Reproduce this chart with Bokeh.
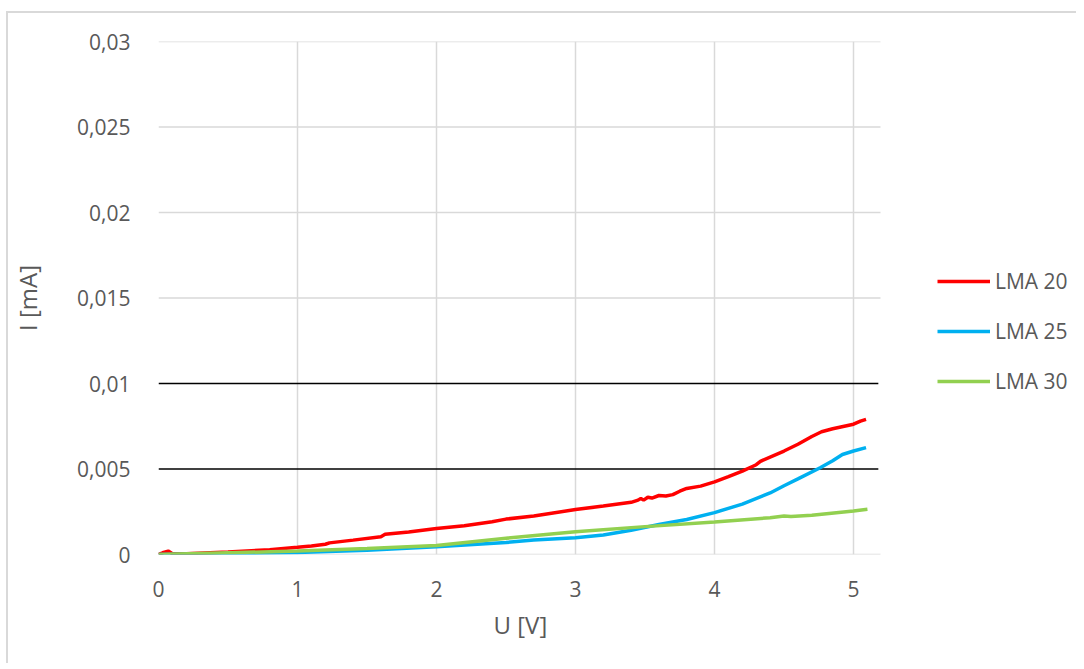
from bokeh.plotting import figure
from bokeh.models import Legend, LegendItem, CustomJSTickFormatter, Range1d, FixedTicker, Title
from bokeh.embed import file_html
from bokeh.resources import INLINE

# ---- data ----
u_lma20 = [0, 0.03, 0.07, 0.1, 0.2, 0.5, 0.8, 1.0, 1.1, 1.2, 1.23, 1.4, 1.6, 1.63, 1.8, 2.0, 2.2, 2.4, 2.5,
           2.7, 3.0, 3.2, 3.4, 3.45, 3.47, 3.49, 3.52, 3.55, 3.6, 3.65, 3.7, 3.75, 3.8, 3.9, 4.0, 4.1,
           4.2, 4.3, 4.33, 4.5, 4.6, 4.7, 4.77, 4.85, 5.0, 5.05, 5.09]
i_lma20 = [0, 0.0001, 0.0002, 0.00005, 0.00005, 0.00014, 0.00028, 0.00042, 0.0005, 0.0006, 0.00068,
           0.00084, 0.00104, 0.00118, 0.00132, 0.00152, 0.00168, 0.00192, 0.00207, 0.00225, 0.00263,
           0.00283, 0.00305, 0.00318, 0.00328, 0.00318, 0.00335, 0.0033, 0.00345, 0.00342, 0.0035,
           0.0037, 0.00386, 0.004, 0.00425, 0.00455, 0.00488, 0.00525, 0.00545, 0.00605, 0.00645,
           0.0069, 0.00718, 0.00735, 0.00762, 0.0078, 0.0079]

u_lma25 = [0, 0.5, 1.0, 1.5, 2.0, 2.5, 2.7, 3.0, 3.2, 3.4, 3.6, 3.8, 4.0, 4.2, 4.4, 4.5, 4.6, 4.76,
           4.85, 4.92, 5.0, 5.09]
i_lma25 = [0, 0.00005, 0.00012, 0.00025, 0.00045, 0.0007, 0.00085, 0.00098, 0.00114, 0.00142,
           0.00175, 0.00205, 0.00245, 0.00295, 0.0036, 0.00402, 0.00442, 0.00507, 0.00548, 0.00585,
           0.00605, 0.00625]

u_lma30 = [0, 0.5, 1.0, 1.5, 2.0, 2.5, 3.0, 3.5, 4.0, 4.4, 4.5, 4.55, 4.7, 5.0, 5.1]
i_lma30 = [0, 0.0001, 0.0002, 0.00035, 0.00052, 0.00095, 0.00133, 0.00163, 0.0019, 0.00215,
           0.00225, 0.00222, 0.0023, 0.00255, 0.00265]

x_ticks = [0, 1, 2, 3, 4, 5]
y_ticks = [0, 0.005, 0.01, 0.015, 0.02, 0.025, 0.03]
black_grid = [0.005, 0.01]
x_axis_max = 5.194
y_axis_max = 0.03

series = [("LMA 20", u_lma20, i_lma20, "#FF0000"),
          ("LMA 25", u_lma25, i_lma25, "#00B0F0"),
          ("LMA 30", u_lma30, i_lma30, "#92D050")]

FONT = "Open Sans"
GRAY_TXT = "#595959"
GRID = "#D9D9D9"

# layout: plot area 722px wide for the data axis; the frame is extended to the right to hold the legend
W, H = 1070, 652
MB_L, MB_R = 150, 6
frame_w = W - MB_L - MB_R
x_view_max = x_axis_max * frame_w / 722.0

p = figure(width=W, height=H, output_backend="svg", toolbar_location=None,
           x_range=Range1d(0, x_view_max), y_range=Range1d(0, y_axis_max),
           min_border_left=MB_L, min_border_top=28, min_border_right=MB_R, min_border_bottom=111)
p.styles = {"border-top": "2px solid #D9D9D9", "border-left": "2px solid #D9D9D9",
            "margin-top": "11px", "margin-left": "6px"}
p.outline_line_color = None

for ax in (p.xaxis[0], p.yaxis[0]):
    ax.major_tick_line_color = None
    ax.minor_tick_line_color = None
    ax.axis_line_color = None
    ax.major_label_text_font = FONT
    ax.major_label_text_font_size = "21px"
    ax.major_label_text_color = GRAY_TXT
    ax.axis_label_text_font = FONT
    ax.axis_label_text_font_size = "24px"
    ax.axis_label_text_font_style = "normal"
    ax.axis_label_text_color = GRAY_TXT

p.xaxis.ticker = FixedTicker(ticks=x_ticks)
p.yaxis.ticker = FixedTicker(ticks=y_ticks)
p.yaxis.axis_label = "I [mA]"
p.xaxis.major_label_standoff = 20
p.yaxis.major_label_standoff = 22
p.yaxis.axis_label_standoff = 30
p.yaxis.formatter = CustomJSTickFormatter(
    code="var s = tick.toFixed(3).replace(/0+$/, '').replace(/\\.$/, ''); return s.replace('.', ',');")

# x axis title, centred under the data axis extent (not the extended frame)
xt = Title(text="U [V]", align="left", offset=335, standoff=12,
           text_font=FONT, text_font_size="24px", text_font_style="normal", text_color=GRAY_TXT)
p.add_layout(xt, "below")

p.xgrid.grid_line_color = GRID
p.xgrid.grid_line_width = 1.5
p.ygrid.grid_line_color = None

# horizontal gridlines limited to the data axis extent
grey_y = [t for t in y_ticks if t not in black_grid]
p.segment(x0=[0] * len(grey_y), x1=[x_axis_max] * len(grey_y), y0=grey_y, y1=grey_y,
          line_color=GRID, line_width=1.5)
p.segment(x0=[0] * len(black_grid), x1=[x_axis_max * 0.997] * len(black_grid), y0=black_grid, y1=black_grid,
          line_color="black", line_width=1.3)

items = []
for name, xs, ys, col in series:
    r = p.line(xs, ys, line_color=col, line_width=3.5)
    items.append(LegendItem(label=name, renderers=[r]))

legend = Legend(items=items, location=(779, 159), orientation="vertical",
                label_text_font=FONT, label_text_font_size="21px", label_text_color=GRAY_TXT,
                glyph_width=53, glyph_height=22, label_height=22, spacing=22, label_standoff=5,
                border_line_color=None, background_fill_alpha=0, padding=0, margin=0)
p.add_layout(legend, "center")

open("out.html", "w").write(file_html(p, INLINE))
